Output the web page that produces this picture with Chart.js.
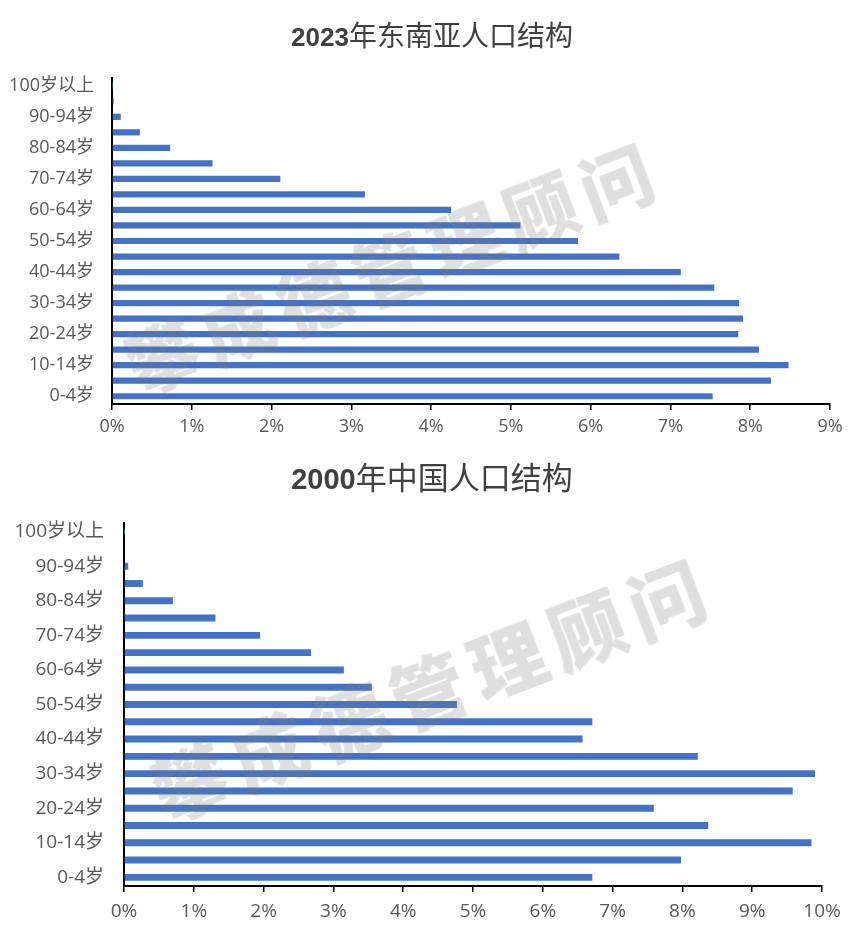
<!DOCTYPE html>
<html>
<head>
<meta charset="utf-8">
<script src="https://cdn.jsdelivr.net/npm/chart.js@4"></script>
<style>
  html, body { margin: 0; padding: 0; background: #fff; }
  body { width: 864px; height: 930px; position: relative; overflow: hidden; }
  .panel { position: absolute; left: 0; width: 864px; }
  .panel canvas { position: absolute; left: 0; top: 0; }
  .title { position: absolute; left: 0; width: 864px; text-align: center; color: #404040;
           font-family: "Noto Sans CJK SC", sans-serif; line-height: 1; white-space: nowrap; }
  .title .num { font-family: "Liberation Sans", Arial, sans-serif; font-weight: bold; }
  .title .cjk { font-weight: 400; }
  .wm { position: absolute; transform: translate(-50%, -50%) rotate(-21deg); white-space: nowrap;
        font-family: "Noto Sans CJK SC", sans-serif; font-weight: 900; color: rgba(120,120,120,0.24);
        pointer-events: none; line-height: 1; }
</style>
</head>
<body>
<div class="panel" style="top:0;height:450px;">
  <canvas id="c1" width="864" height="450"></canvas>
</div>
<div class="title" style="top:20px;"><span class="num" style="font-size:26px;">2023</span><span class="cjk" style="font-size:28px;">年东南亚人口结构</span></div>
<div class="wm" style="left:388px;top:266px;font-size:72px;letter-spacing:9px;padding-left:9px;">攀成德管理顾问</div>

<div class="panel" style="top:450px;height:480px;">
  <canvas id="c2" width="864" height="480"></canvas>
</div>
<div class="title" style="top:460px;"><span class="num" style="font-size:29px;">2000</span><span class="cjk" style="font-size:31px;">年中国人口结构</span></div>
<div class="wm" style="left:427px;top:688px;font-size:75px;letter-spacing:10px;padding-left:10px;">攀成德管理顾问</div>

<script>
// Age groups, bottom (youngest) to top (oldest)
const categories = ["0-4岁","5-9岁","10-14岁","15-19岁","20-24岁","25-29岁","30-34岁","35-39岁","40-44岁","45-49岁",
  "50-54岁","55-59岁","60-64岁","65-69岁","70-74岁","75-79岁","80-84岁","85-89岁","90-94岁","95-99岁","100岁以上"];

// Share of population (%), 2023 Southeast Asia
const sea2023 = [7.53, 8.26, 8.48, 8.11, 7.85, 7.91, 7.86, 7.55, 7.13, 6.36,
  5.84, 5.12, 4.25, 3.17, 2.11, 1.26, 0.73, 0.35, 0.11, 0.02, 0.003];

// Share of population (%), 2000 China
const china2000 = [6.71, 7.98, 9.85, 8.37, 7.59, 9.58, 9.90, 8.22, 6.57, 6.71,
  4.77, 3.55, 3.15, 2.68, 1.95, 1.31, 0.70, 0.27, 0.06, 0.01, 0.001];

const xMax2023 = 9;
const xMax2000 = 10;

const BAR = '#4472C4';
const LABEL = '#595959';
const FONT = '"Open Sans", "Noto Sans CJK SC", sans-serif';

function makeChart(id, values, xMax, cfg) {
  return new Chart(document.getElementById(id), {
    type: 'bar',
    data: {
      labels: categories,
      datasets: [{ data: values, backgroundColor: BAR, borderWidth: 0,
                   barPercentage: cfg.barPct, categoryPercentage: 1 }]
    },
    options: {
      indexAxis: 'y',
      responsive: false,
      animation: false,
      devicePixelRatio: 1,
      layout: { padding: { top: cfg.top, right: cfg.right, left: 0, bottom: 0 } },
      plugins: { legend: { display: false }, tooltip: { enabled: false }, title: { display: false } },
      scales: {
        x: {
          min: 0, max: xMax,
          ticks: { stepSize: 1, color: LABEL, font: { family: FONT, size: cfg.fs },
                   padding: cfg.xpad, maxRotation: 0,
                   callback: v => v + '%' },
          grid: { display: true, drawOnChartArea: false, drawTicks: true, tickLength: 6,
                  color: '#000', lineWidth: 1.5 },
          border: { display: true, color: '#000', width: 2 },
          afterFit: s => { s.height = cfg.xh; }
        },
        y: {
          reverse: true,
          ticks: { autoSkip: false, color: LABEL, font: { family: FONT, size: cfg.fs }, padding: cfg.ypad,
                   callback: (v, i) => (i % 2 === 0 ? categories[i] : '') },
          grid: { display: false },
          border: { display: true, color: '#000', width: 2 },
          afterFit: s => { s.width = cfg.yw; }
        }
      }
    }
  });
}

makeChart('c1', sea2023, xMax2023, { top: 78, right: 34, yw: 112, xh: 46, fs: 18, xpad: 6, ypad: 10, barPct: 0.4 });
makeChart('c2', china2000, xMax2000, { top: 73, right: 42, yw: 124, xh: 44, fs: 19, xpad: 8, ypad: 12, barPct: 0.4 });
</script>
</body>
</html>
